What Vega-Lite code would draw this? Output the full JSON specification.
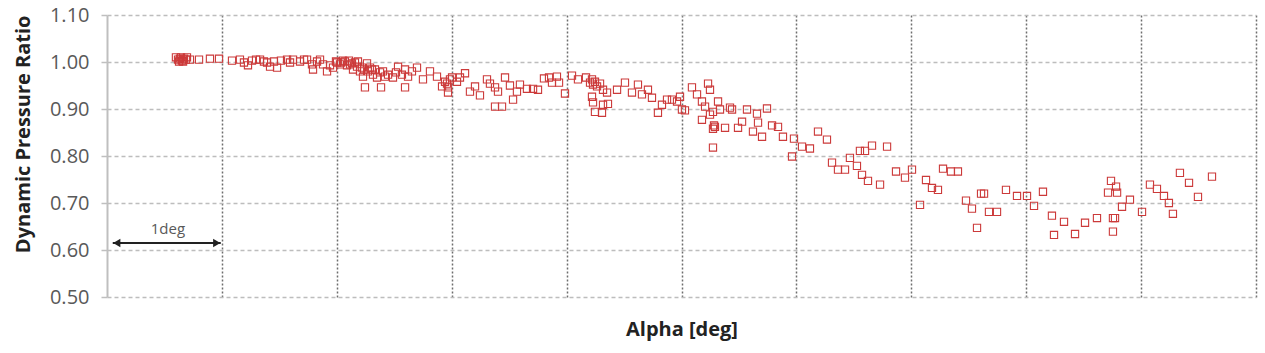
{
  "$schema": "https://vega.github.io/schema/vega-lite/v6.json",
  "autosize": {"type": "none"},
  "padding": {"left": 107, "top": 15, "right": 9, "bottom": 56},
  "width": 1149,
  "height": 282,
  "background": "white",
  "config": {"view": {"stroke": null}},
  "datasets": {
    "pts": [
      {"alpha":0.600,"ratio":1.010},{"alpha":0.618,"ratio":1.005},{"alpha":0.635,"ratio":1.007},{"alpha":0.653,"ratio":1.003},
      {"alpha":0.670,"ratio":1.007},{"alpha":0.688,"ratio":1.005},{"alpha":0.627,"ratio":1.001},{"alpha":0.662,"ratio":1.001},
      {"alpha":0.696,"ratio":1.010},{"alpha":0.644,"ratio":1.010},{"alpha":0.722,"ratio":1.005},{"alpha":0.801,"ratio":1.005},
      {"alpha":0.896,"ratio":1.007},{"alpha":0.975,"ratio":1.007},{"alpha":1.088,"ratio":1.003},{"alpha":1.157,"ratio":1.005},
      {"alpha":1.192,"ratio":0.999},{"alpha":1.227,"ratio":0.993},{"alpha":1.262,"ratio":1.003},{"alpha":1.297,"ratio":1.005},
      {"alpha":1.332,"ratio":1.005},{"alpha":1.366,"ratio":1.001},{"alpha":1.393,"ratio":0.999},{"alpha":1.419,"ratio":0.990},
      {"alpha":1.453,"ratio":1.001},{"alpha":1.480,"ratio":0.988},{"alpha":1.514,"ratio":1.003},{"alpha":1.567,"ratio":1.005},
      {"alpha":1.593,"ratio":0.999},{"alpha":1.619,"ratio":1.005},{"alpha":1.680,"ratio":1.001},{"alpha":1.715,"ratio":1.005},
      {"alpha":1.741,"ratio":1.005},{"alpha":1.784,"ratio":0.995},{"alpha":1.793,"ratio":0.984},{"alpha":1.828,"ratio":1.001},
      {"alpha":1.854,"ratio":1.005},{"alpha":1.880,"ratio":0.995},{"alpha":1.915,"ratio":0.980},{"alpha":1.941,"ratio":0.993},
      {"alpha":1.967,"ratio":0.988},{"alpha":2.002,"ratio":0.999},{"alpha":2.028,"ratio":0.995},{"alpha":2.054,"ratio":1.003},
      {"alpha":2.071,"ratio":1.001},{"alpha":2.089,"ratio":0.993},{"alpha":2.115,"ratio":0.995},{"alpha":2.141,"ratio":0.984},
      {"alpha":2.158,"ratio":0.999},{"alpha":2.176,"ratio":0.990},{"alpha":2.202,"ratio":0.980},{"alpha":2.219,"ratio":0.988},
      {"alpha":2.228,"ratio":0.969},{"alpha":2.245,"ratio":0.946},{"alpha":2.263,"ratio":0.997},{"alpha":2.289,"ratio":0.988},
      {"alpha":2.315,"ratio":0.973},{"alpha":2.332,"ratio":0.984},{"alpha":2.350,"ratio":0.967},{"alpha":2.376,"ratio":0.978},
      {"alpha":2.385,"ratio":0.946},{"alpha":2.402,"ratio":0.980},{"alpha":2.419,"ratio":0.969},{"alpha":2.446,"ratio":0.973},
      {"alpha":1.993,"ratio":1.001},{"alpha":2.037,"ratio":0.999},{"alpha":2.106,"ratio":1.003},{"alpha":2.132,"ratio":0.997},
      {"alpha":2.184,"ratio":1.001},{"alpha":2.237,"ratio":0.984},{"alpha":2.272,"ratio":0.980},{"alpha":2.306,"ratio":0.984},
      {"alpha":2.489,"ratio":0.967},{"alpha":2.515,"ratio":0.978},{"alpha":2.533,"ratio":0.990},{"alpha":2.567,"ratio":0.973},
      {"alpha":2.594,"ratio":0.946},{"alpha":2.594,"ratio":0.984},{"alpha":2.620,"ratio":0.969},{"alpha":2.654,"ratio":0.980},
      {"alpha":2.698,"ratio":0.988},{"alpha":2.750,"ratio":0.963},{"alpha":2.811,"ratio":0.980},{"alpha":2.872,"ratio":0.969},
      {"alpha":2.916,"ratio":0.948},{"alpha":2.942,"ratio":0.958},{"alpha":2.959,"ratio":0.954},{"alpha":2.968,"ratio":0.935},
      {"alpha":2.968,"ratio":0.946},{"alpha":2.985,"ratio":0.963},{"alpha":3.003,"ratio":0.967},{"alpha":3.046,"ratio":0.958},
      {"alpha":3.072,"ratio":0.967},{"alpha":3.116,"ratio":0.976},{"alpha":3.159,"ratio":0.937},{"alpha":3.203,"ratio":0.948},
      {"alpha":3.246,"ratio":0.929},{"alpha":3.307,"ratio":0.963},{"alpha":3.333,"ratio":0.954},{"alpha":3.377,"ratio":0.946},
      {"alpha":3.377,"ratio":0.905},{"alpha":3.438,"ratio":0.905},{"alpha":3.403,"ratio":0.937},{"alpha":3.464,"ratio":0.967},
      {"alpha":3.507,"ratio":0.950},{"alpha":3.534,"ratio":0.920},{"alpha":3.568,"ratio":0.937},{"alpha":3.594,"ratio":0.952},
      {"alpha":3.655,"ratio":0.943},{"alpha":3.708,"ratio":0.943},{"alpha":3.751,"ratio":0.941},{"alpha":3.803,"ratio":0.965},
      {"alpha":3.847,"ratio":0.967},{"alpha":3.873,"ratio":0.956},{"alpha":3.916,"ratio":0.969},{"alpha":3.934,"ratio":0.956},
      {"alpha":3.986,"ratio":0.933},{"alpha":4.047,"ratio":0.971},{"alpha":4.099,"ratio":0.963},{"alpha":4.169,"ratio":0.967},
      {"alpha":4.204,"ratio":0.956},{"alpha":4.221,"ratio":0.963},{"alpha":4.230,"ratio":0.952},{"alpha":4.247,"ratio":0.958},
      {"alpha":4.265,"ratio":0.948},{"alpha":4.291,"ratio":0.954},{"alpha":4.317,"ratio":0.941},{"alpha":4.221,"ratio":0.926},
      {"alpha":4.230,"ratio":0.914},{"alpha":4.247,"ratio":0.894},{"alpha":4.308,"ratio":0.892},{"alpha":4.317,"ratio":0.909},
      {"alpha":4.360,"ratio":0.911},{"alpha":4.352,"ratio":0.935},{"alpha":4.439,"ratio":0.941},{"alpha":4.508,"ratio":0.956},
      {"alpha":4.569,"ratio":0.935},{"alpha":4.621,"ratio":0.952},{"alpha":4.656,"ratio":0.931},{"alpha":4.708,"ratio":0.941},
      {"alpha":4.743,"ratio":0.924},{"alpha":4.795,"ratio":0.892},{"alpha":4.830,"ratio":0.909},{"alpha":4.874,"ratio":0.920},
      {"alpha":4.917,"ratio":0.920},{"alpha":4.961,"ratio":0.916},{"alpha":4.987,"ratio":0.926},{"alpha":5.004,"ratio":0.899},
      {"alpha":5.030,"ratio":0.897},{"alpha":5.091,"ratio":0.946},{"alpha":5.135,"ratio":0.931},{"alpha":5.178,"ratio":0.916},
      {"alpha":5.231,"ratio":0.954},{"alpha":5.248,"ratio":0.941},{"alpha":5.205,"ratio":0.905},{"alpha":5.178,"ratio":0.877},
      {"alpha":5.248,"ratio":0.888},{"alpha":5.274,"ratio":0.894},{"alpha":5.291,"ratio":0.862},{"alpha":5.274,"ratio":0.858},
      {"alpha":5.283,"ratio":0.865},{"alpha":5.318,"ratio":0.916},{"alpha":5.335,"ratio":0.899},{"alpha":5.379,"ratio":0.860},
      {"alpha":5.274,"ratio":0.818},{"alpha":5.422,"ratio":0.903},{"alpha":5.440,"ratio":0.899},{"alpha":5.492,"ratio":0.860},
      {"alpha":5.527,"ratio":0.873},{"alpha":5.570,"ratio":0.899},{"alpha":5.622,"ratio":0.852},{"alpha":5.657,"ratio":0.890},
      {"alpha":5.666,"ratio":0.871},{"alpha":5.701,"ratio":0.841},{"alpha":5.744,"ratio":0.901},{"alpha":5.788,"ratio":0.865},
      {"alpha":5.840,"ratio":0.862},{"alpha":5.883,"ratio":0.841},{"alpha":5.962,"ratio":0.799},{"alpha":5.979,"ratio":0.837},
      {"alpha":6.049,"ratio":0.820},{"alpha":6.118,"ratio":0.816},{"alpha":6.188,"ratio":0.852},{"alpha":6.266,"ratio":0.835},
      {"alpha":6.310,"ratio":0.786},{"alpha":6.362,"ratio":0.771},{"alpha":6.423,"ratio":0.771},{"alpha":6.466,"ratio":0.796},
      {"alpha":6.527,"ratio":0.779},{"alpha":6.553,"ratio":0.811},{"alpha":6.571,"ratio":0.760},{"alpha":6.597,"ratio":0.811},
      {"alpha":6.623,"ratio":0.747},{"alpha":6.658,"ratio":0.822},{"alpha":6.728,"ratio":0.739},{"alpha":6.789,"ratio":0.820},
      {"alpha":6.867,"ratio":0.767},{"alpha":6.945,"ratio":0.754},{"alpha":7.006,"ratio":0.771},{"alpha":7.076,"ratio":0.696},
      {"alpha":7.128,"ratio":0.749},{"alpha":7.180,"ratio":0.732},{"alpha":7.232,"ratio":0.728},{"alpha":7.276,"ratio":0.773},
      {"alpha":7.345,"ratio":0.767},{"alpha":7.406,"ratio":0.767},{"alpha":7.476,"ratio":0.705},{"alpha":7.528,"ratio":0.688},
      {"alpha":7.572,"ratio":0.647},{"alpha":7.607,"ratio":0.720},{"alpha":7.633,"ratio":0.720},{"alpha":7.676,"ratio":0.681},
      {"alpha":7.746,"ratio":0.681},{"alpha":7.824,"ratio":0.728},{"alpha":7.920,"ratio":0.715},{"alpha":8.007,"ratio":0.715},
      {"alpha":8.068,"ratio":0.694},{"alpha":8.146,"ratio":0.724},{"alpha":8.224,"ratio":0.673},{"alpha":8.242,"ratio":0.632},
      {"alpha":8.329,"ratio":0.660},{"alpha":8.425,"ratio":0.634},{"alpha":8.512,"ratio":0.658},{"alpha":8.616,"ratio":0.668},
      {"alpha":8.738,"ratio":0.747},{"alpha":8.782,"ratio":0.735},{"alpha":8.712,"ratio":0.722},{"alpha":8.791,"ratio":0.722},
      {"alpha":8.755,"ratio":0.668},{"alpha":8.773,"ratio":0.668},{"alpha":8.755,"ratio":0.639},{"alpha":8.834,"ratio":0.692},
      {"alpha":8.903,"ratio":0.707},{"alpha":9.008,"ratio":0.681},{"alpha":9.077,"ratio":0.739},{"alpha":9.138,"ratio":0.730},
      {"alpha":9.199,"ratio":0.715},{"alpha":9.242,"ratio":0.700},{"alpha":9.277,"ratio":0.677},{"alpha":9.338,"ratio":0.764},
      {"alpha":9.417,"ratio":0.743},{"alpha":9.495,"ratio":0.713},{"alpha":9.617,"ratio":0.756}
    ],
    "arrow": [{"a1": 0.05, "a2": 0.99, "r": 0.615}],
    "heads": [{"a": 0.085, "r": 0.615, "dir": "L"}, {"a": 0.955, "r": 0.615, "dir": "R"}],
    "label": [{"a": 0.53, "r": 0.645, "t": "1deg"}]
  },
  "layer": [
    {
      "data": {"name": "pts"},
      "mark": {"type": "point", "shape": "square", "filled": false, "size": 52, "strokeWidth": 1.1, "color": "#cc3a3a", "opacity": 1},
      "encoding": {
        "x": {
          "field": "alpha", "type": "quantitative",
          "scale": {"domain": [0, 10], "nice": false, "zero": false},
          "axis": {
            "values": [1, 2, 3, 4, 5, 6, 7, 8, 9, 10],
            "labels": false, "ticks": false, "domain": false,
            "grid": true, "gridColor": "#6e6e6e", "gridDash": [2, 2], "gridWidth": 1.5,
            "title": "Alpha [deg]", "titleFont": "Open Sans", "titleFontSize": 20, "titleFontWeight": "bold",
            "titleColor": "#222222", "titlePadding": 22
          }
        },
        "y": {
          "field": "ratio", "type": "quantitative",
          "scale": {"domain": [0.5, 1.1], "nice": false, "zero": false},
          "axis": {
            "values": [0.5, 0.6, 0.7, 0.8, 0.9, 1.0, 1.1],
            "format": ".2f",
            "labelFont": "Open Sans", "labelFontSize": 20, "labelColor": "#595959", "labelPadding": 12,
            "ticks": true, "tickSize": 6, "tickColor": "#bfbfbf", "tickWidth": 1.5,
            "domain": true, "domainColor": "#bfbfbf", "domainWidth": 2,
            "grid": true, "gridColor": "#bdbdbd", "gridDash": [4, 3], "gridWidth": 1.5,
            "title": "Dynamic Pressure Ratio", "titleFont": "Open Sans", "titleFontSize": 20, "titleFontWeight": "bold",
            "titleColor": "#222222", "titleAnchor": "end", "titlePadding": 16
          }
        }
      }
    },
    {
      "data": {"name": "arrow"},
      "mark": {"type": "rule", "color": "#222222", "strokeWidth": 2},
      "encoding": {
        "x": {"field": "a1", "type": "quantitative"},
        "x2": {"field": "a2"},
        "y": {"field": "r", "type": "quantitative"}
      }
    },
    {
      "data": {"name": "heads"},
      "mark": {"type": "point", "filled": true, "size": 70, "color": "#222222", "opacity": 1},
      "encoding": {
        "x": {"field": "a", "type": "quantitative"},
        "y": {"field": "r", "type": "quantitative"},
        "shape": {"field": "dir", "type": "nominal", "scale": {"domain": ["L", "R"], "range": ["triangle-left", "triangle-right"]}, "legend": null}
      }
    },
    {
      "data": {"name": "label"},
      "mark": {"type": "text", "font": "Open Sans", "fontSize": 15, "color": "#595959"},
      "encoding": {
        "x": {"field": "a", "type": "quantitative"},
        "y": {"field": "r", "type": "quantitative"},
        "text": {"field": "t", "type": "nominal"}
      }
    }
  ]
}
